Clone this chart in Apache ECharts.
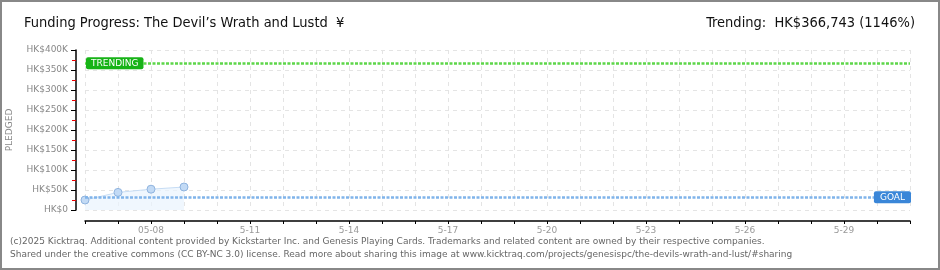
<!DOCTYPE html>
<html><head><meta charset="utf-8">
<script src="https://cdn.jsdelivr.net/npm/echarts@6/dist/echarts.min.js"></script>
<style>html,body{margin:0;padding:0;background:#fff}#c{width:940px;height:270px}</style>
</head><body><div id="c"></div>
<script>
var categories = ['05-06','05-07','05-08','05-09','05-10','05-11','05-12','05-13','05-14','05-15','05-16','05-17','05-18','05-19','05-20','05-21','05-22','05-23','05-24','05-25','05-26','05-27','05-28','05-29','05-30','05-31'];
var tickLabels = {'05-08':'05-08','05-11':'5-11','05-14':'5-14','05-17':'5-17','05-20':'5-20','05-23':'5-23','05-26':'5-26','05-29':'5-29'};
var pledged = [25000, 44000, 52000, 57500];
var goal = 32000;
var trending = 366743;
var yTicks = {0:'HK$0',50000:'HK$50K',100000:'HK$100K',150000:'HK$150K',200000:'HK$200K',250000:'HK$250K',300000:'HK$300K',350000:'HK$350K',400000:'HK$400K'};

var chart = echarts.init(document.getElementById('c'));
var pix = 'DejaVu Sans';
chart.setOption({
  animation:false,
  title:[
    {text:'Funding Progress: The Devil\u2019s Wrath and Lustd  \u00a5', left:19, top:11, textStyle:{fontFamily:'DejaVu Sans Condensed', fontSize:14.5, fontWeight:'normal', color:'#111'}},
    {text:'Trending:  HK$366,743 (1146%)', right:20, top:11, textStyle:{fontFamily:'DejaVu Sans Condensed', fontSize:14.5, fontWeight:'normal', color:'#111'}}
  ],
  grid:{left:85, right:30, top:50, bottom:60, outerBoundsMode:'none', containLabel:false},
  xAxis:{type:'category', data:categories, boundaryGap:false, offset:11, position:'bottom',
    axisLine:{show:true, onZero:false, lineStyle:{color:'#000', width:1.5}},
    axisTick:{show:true, length:3, interval:0, lineStyle:{color:'#000'}},
    axisLabel:{interval:0, margin:5, fontFamily:pix, fontSize:9, color:'#999', formatter:function(v){return tickLabels[v]||'';}},
    splitLine:{show:true, interval:0, lineStyle:{color:'#e4e4e4', type:[4,4]}}
  },
  yAxis:{type:'value', min:0, max:400000, interval:50000, offset:9,
    name:'PLEDGED', nameLocation:'middle', nameGap:62, nameTextStyle:{fontFamily:pix, fontSize:9, color:'#888'},
    axisLine:{show:true, lineStyle:{color:'#000', width:1.5}},
    axisTick:{show:true, length:5, lineStyle:{color:'#000'}},
    minorTick:{show:true, splitNumber:2, length:4, lineStyle:{color:'#e00'}},
    axisLabel:{margin:8, fontFamily:pix, fontSize:9, color:'#888', formatter:function(v){return yTicks[v]||'';}},
    splitLine:{show:true, lineStyle:{color:'#e4e4e4', type:[4,4]}}
  },
  series:[{
    type:'line', data:pledged, symbol:'circle', symbolSize:8,
    lineStyle:{color:'#c6dcf4', width:1},
    itemStyle:{color:'#c2daf5', borderColor:'#8fb3de', borderWidth:1},
    areaStyle:{color:'#eaf3fd'},
    markLine:{silent:true, symbol:'none', animation:false,
      data:[
        {yAxis:trending, lineStyle:{color:'#5ed64a', type:[3,1.5], width:2.5},
          label:{show:true, position:'insideStart', distance:-6, formatter:'TRENDING', backgroundColor:'#17b317', color:'#fff', fontFamily:pix, fontSize:9, padding:[2,5,1,5], borderRadius:2, offset:[7,0]}},
        {yAxis:goal, lineStyle:{color:'#80b4ea', type:[3,1.5], width:2.5},
          label:{show:true, position:'insideEnd', distance:-6, formatter:'GOAL', backgroundColor:'#3a86d8', color:'#fff', fontFamily:pix, fontSize:9, padding:[2,6,1,6], borderRadius:2, offset:[-5,0]}}
      ]
    }
  }],
  graphic:[
    {type:'rect', shape:{x:1,y:1,width:938,height:268}, style:{fill:'none', stroke:'#888', lineWidth:2}, silent:true},
    {type:'text', left:10, top:237, style:{text:'(c)2025 Kicktraq. Additional content provided by Kickstarter Inc. and Genesis Playing Cards. Trademarks and related content are owned by their respective companies.', font:'9px Verdana, "DejaVu Sans"', fill:'#666'}},
    {type:'text', left:10, top:250, style:{text:'Shared under the creative commons (CC BY-NC 3.0) license. Read more about sharing this image at www.kicktraq.com/projects/genesispc/the-devils-wrath-and-lust/#sharing', font:'9px Verdana, "DejaVu Sans"', fill:'#666'}}
  ]
});
</script></body></html>
